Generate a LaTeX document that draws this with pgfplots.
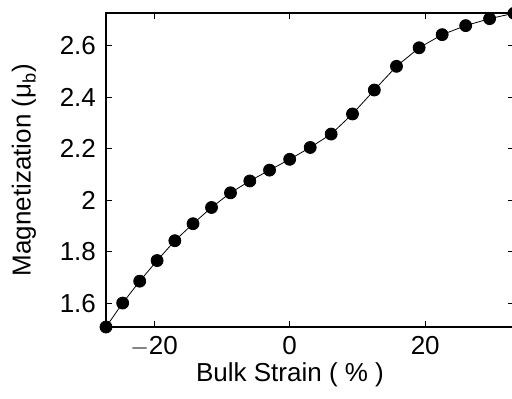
\documentclass[border=0pt]{standalone}
\usepackage{fontspec}
\setmainfont{Liberation Sans}
\usepackage{pgfplots}
\pgfplotsset{compat=1.18}
\begin{document}
\fontsize{13}{15}\selectfont
\begin{tikzpicture}
\begin{axis}[
  scale only axis,
  width=204pt, height=157pt,
  xmin=-27.1, xmax=33.1,
  ymin=1.508, ymax=2.727,
  xtick={-20,0,20},
  ytick={1.6,1.8,2,2.2,2.4,2.6},
  yticklabels={1.6,1.8,2,2.2,2.4,2.6},
  xticklabels={$-$20,0,20},
  tick align=inside,
  major tick length=3pt,
  tick style={black, line width=0.4pt},
  axis line style={black, line width=0.6pt},
  tick label style={font=\fontsize{13}{15}\selectfont},
  /pgf/number format/assume math mode=true,
  xticklabel style={yshift=0pt},
  yticklabel style={xshift=-0.5pt},
  xlabel={Bulk Strain ( \% )},
  ylabel={Magnetization (μ\textsubscript{b})},
  label style={font=\fontsize{13}{15}\selectfont},
  xlabel style={at={(axis description cs:0.451,-0.153)}, anchor=center},
  ylabel style={at={(axis description cs:-0.201,0.5)}, anchor=center, rotate=0},
  clip=false,
]
\addplot[black, line width=0.4pt, mark=*, mark size=3pt, mark options={fill=black, draw=black}] coordinates {
(-27.10,1.508)
(-24.64,1.601)
(-22.13,1.686)
(-19.56,1.766)
(-16.94,1.843)
(-14.26,1.909)
(-11.53,1.972)
(-8.73,2.029)
(-5.88,2.075)
(-2.97,2.117)
(0.00,2.159)
(3.03,2.205)
(6.12,2.257)
(9.27,2.335)
(12.49,2.428)
(15.76,2.520)
(19.10,2.592)
(22.50,2.643)
(25.97,2.678)
(29.50,2.705)
(33.10,2.726)
};
\end{axis}
\pgfresetboundingbox
\path[use as bounding box] (current axis.south west) ++(-53pt,-35.5pt) rectangle ++(256pt,199pt);
\end{tikzpicture}
\end{document}
